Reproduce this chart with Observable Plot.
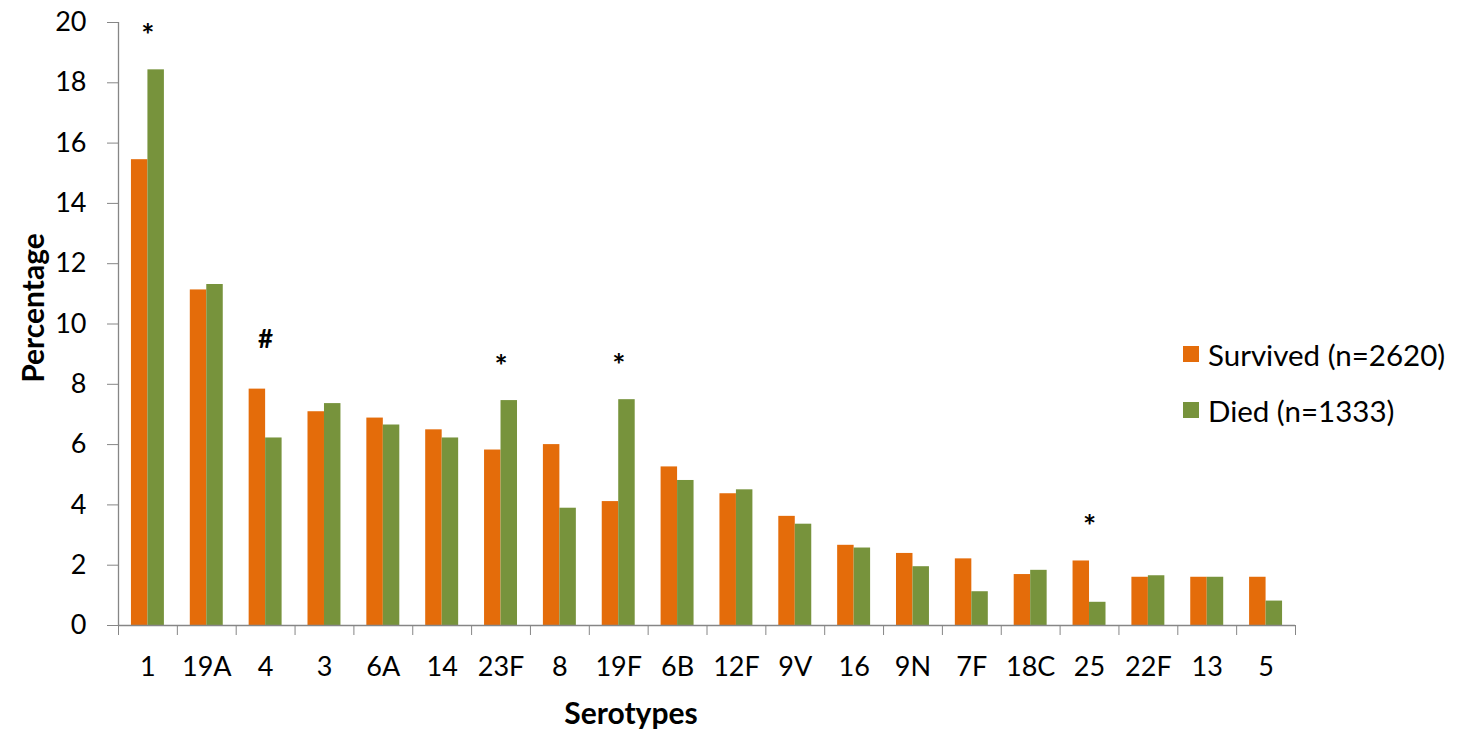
<!DOCTYPE html>
<html>
<head>
<meta charset="utf-8">
<script src="https://cdn.jsdelivr.net/npm/d3@7"></script>
<script src="https://cdn.jsdelivr.net/npm/@observablehq/plot@0.6"></script>
<style>
  html, body { margin: 0; padding: 0; background: #fff; }
  #wrap { position: relative; width: 1459px; height: 737px; font-family: Lato, "Open Sans", sans-serif; color: #000; }
  #wrap svg { position: absolute; left: 0; top: 0; }
  .ttl { position: absolute; font-weight: bold; font-size: 30px; white-space: nowrap; }
  #legend { position: absolute; left: 1183px; top: 326px; font-size: 29.5px; }
  #legend .item { display: flex; align-items: center; height: 56px; }
  #legend .sw { width: 16px; height: 16px; margin-right: 9px; }
</style>
</head>
<body>
<div id="wrap"></div>
<script>
const serotypes = ["1","19A","4","3","6A","14","23F","8","19F","6B","12F","9V","16","9N","7F","18C","25","22F","13","5"];
const survived = [15.45,11.13,7.84,7.09,6.88,6.49,5.82,6.00,4.11,5.26,4.37,3.62,2.66,2.39,2.21,1.69,2.14,1.60,1.60,1.60];
const died     = [18.43,11.31,6.22,7.36,6.65,6.22,7.46,3.89,7.49,4.81,4.50,3.36,2.57,1.95,1.12,1.83,0.77,1.65,1.60,0.81];
const seriesNames = ["Survived (n=2620)","Died (n=1333)"];
const seriesColors = ["#E46C0A","#77933C"];
const annotations = [
  {serotype: "1", mark: "*"},
  {serotype: "4", mark: "#"},
  {serotype: "23F", mark: "*"},
  {serotype: "19F", mark: "*"},
  {serotype: "25", mark: "*"}
];
const yTicks = [0,2,4,6,8,10,12,14,16,18,20];

const rows = [];
serotypes.forEach((s, i) => {
  rows.push({i, serotype: s, series: seriesNames[0], value: survived[i], x1: i + 0.22, x2: i + 0.5});
  rows.push({i, serotype: s, series: seriesNames[1], value: died[i], x1: i + 0.5, x2: i + 0.78});
});
const annRows = annotations.map(a => {
  const i = serotypes.indexOf(a.serotype);
  return {x: i + 0.5, y: Math.max(survived[i], died[i]) + 1.45, mark: a.mark};
});

const axisGrey = "#868686";
const chart = Plot.plot({
  width: 1459,
  height: 737,
  marginLeft: 118,
  marginRight: 164,
  marginTop: 22,
  marginBottom: 112,
  style: {fontFamily: "Lato, 'Open Sans', sans-serif", fontSize: "27px", color: "#000", background: "transparent"},
  x: {type: "linear", domain: [0, serotypes.length], axis: null},
  y: {domain: [0, 20], axis: null},
  color: {domain: seriesNames, range: seriesColors},
  marks: [
    Plot.rect(rows, {x1: "x1", x2: "x2", y1: 0, y2: "value", fill: "series"}),
    Plot.axisY({ticks: yTicks, tickSize: 11, tickPadding: 21, stroke: axisGrey, fill: "#000", fontSize: 27, label: null}),
    Plot.ruleX([0], {stroke: axisGrey, strokeWidth: 1.3}),
    Plot.ruleY([0], {stroke: axisGrey, strokeWidth: 1.3}),
    Plot.axisX({ticks: d3.range(0, serotypes.length + 1), tickSize: 10, tickFormat: () => "", stroke: axisGrey, label: null}),
    Plot.axisX({ticks: serotypes.map((s, i) => i + 0.5), tickSize: 0, tickPadding: 31, tickFormat: v => serotypes[Math.floor(v)], fill: "#000", fontSize: 27, label: null}),
    Plot.text(annRows.filter(d => d.mark === "*"), {x: "x", y: "y", text: "mark", fontSize: 31, fontWeight: "bold", fill: "#000", dy: 10}),
    Plot.text(annRows.filter(d => d.mark !== "*"), {x: "x", y: "y", text: "mark", fontSize: 26, fontWeight: "bold", fill: "#000", dy: -6})
  ]
});

const wrap = document.getElementById("wrap");
wrap.appendChild(chart);

const yt = document.createElement("div");
yt.className = "ttl";
yt.textContent = "Percentage";
yt.style.left = "32px"; yt.style.top = "308px";
yt.style.transform = "translate(-50%,-50%) rotate(-90deg)";
wrap.appendChild(yt);

const xt = document.createElement("div");
xt.className = "ttl";
xt.textContent = "Serotypes";
xt.style.left = "631px"; xt.style.top = "712px";
xt.style.transform = "translate(-50%,-50%)";
wrap.appendChild(xt);

const legend = d3.select(wrap).append("div").attr("id", "legend");
const items = legend.selectAll("div.item").data(seriesNames).join("div").attr("class", "item");
items.append("div").attr("class", "sw").style("background", (d, i) => seriesColors[i]);
items.append("span").text(d => d);
</script>
</body>
</html>
